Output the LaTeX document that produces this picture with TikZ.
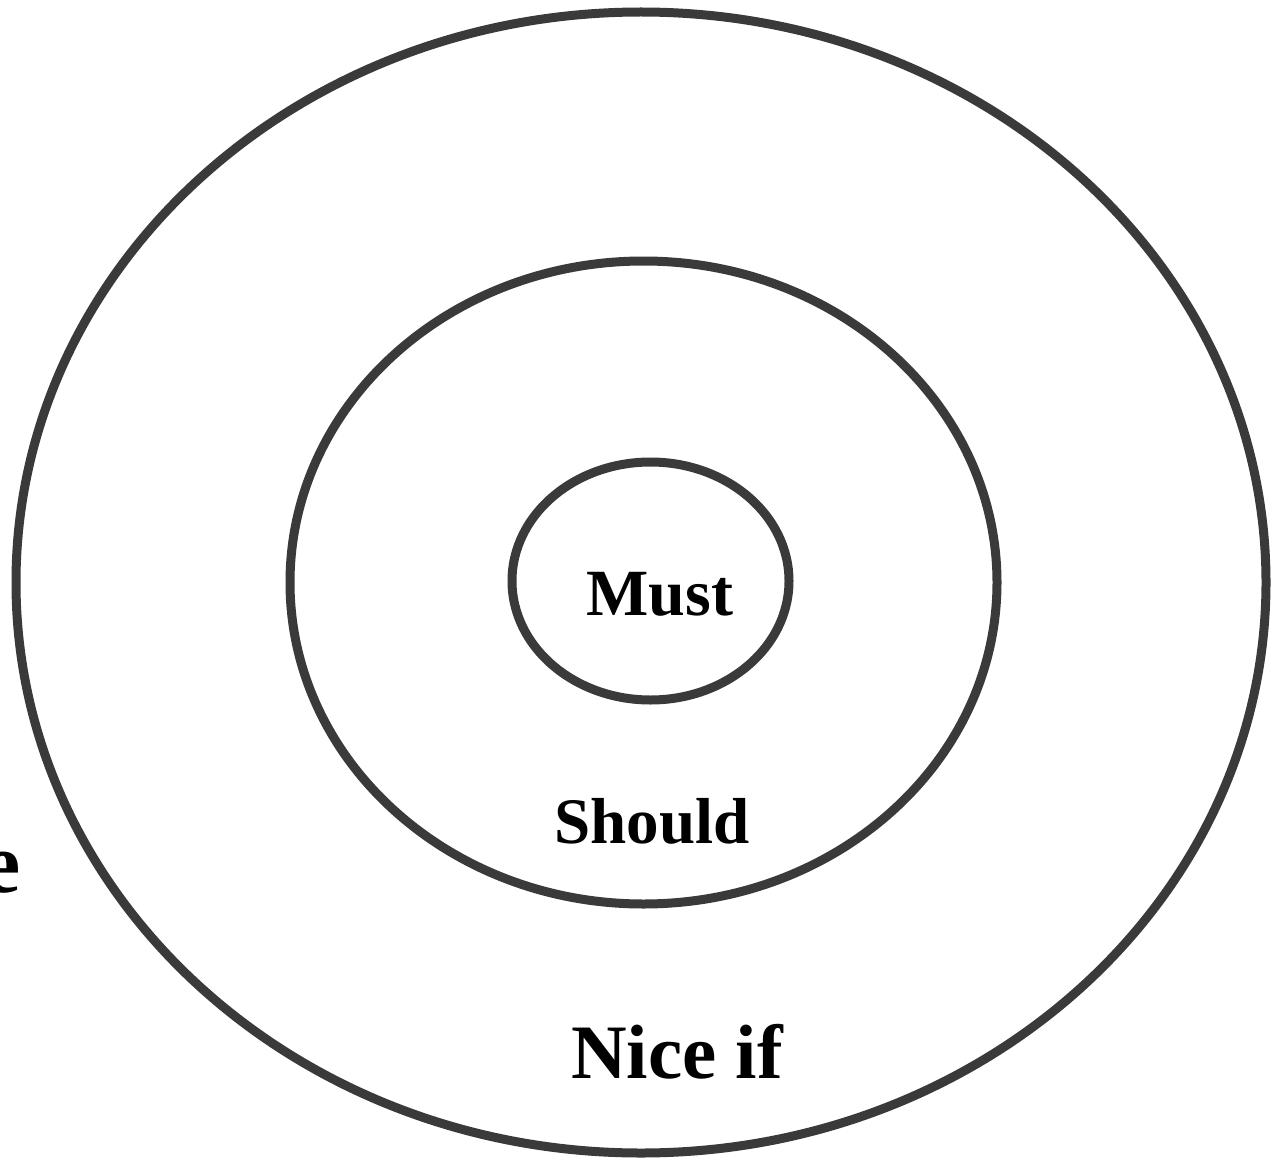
\documentclass[tikz,border=0pt]{standalone}
\usepackage{fontspec}
\setmainfont{Liberation Serif}
\definecolor{ringgray}{HTML}{3A3A3A}
\begin{document}
\begin{tikzpicture}[x=1pt,y=-1pt,
  ring/.style={draw=ringgray,line width=9pt},
  label/.style={inner sep=0pt,anchor=base,font=\bfseries}]
\useasboundingbox (0,0) rectangle (1274,1161);
\fill[white] (0,0) rectangle (1274,1161);
\draw[ring] (641,582.5) ellipse [x radius=625pt, y radius=570.5pt];
\draw[ring] (643.5,582.5) ellipse [x radius=353.5pt, y radius=321.5pt];
\draw[ring] (650.5,581) ellipse [x radius=138.5pt, y radius=119pt];
\node[label,font=\bfseries\fontsize{66}{70}\selectfont] (must) at (660,615) {Must};
\node[label,font=\bfseries\fontsize{65}{70}\selectfont] (should) at (652,843) {Should};
\node[label,font=\bfseries\fontsize{77}{82}\selectfont] (niceif) at (677,1078) {Nice if};
\node[label,anchor=base east,font=\bfseries\fontsize{86}{90}\selectfont] (e) at (21,892) {e};
\end{tikzpicture}
\end{document}
